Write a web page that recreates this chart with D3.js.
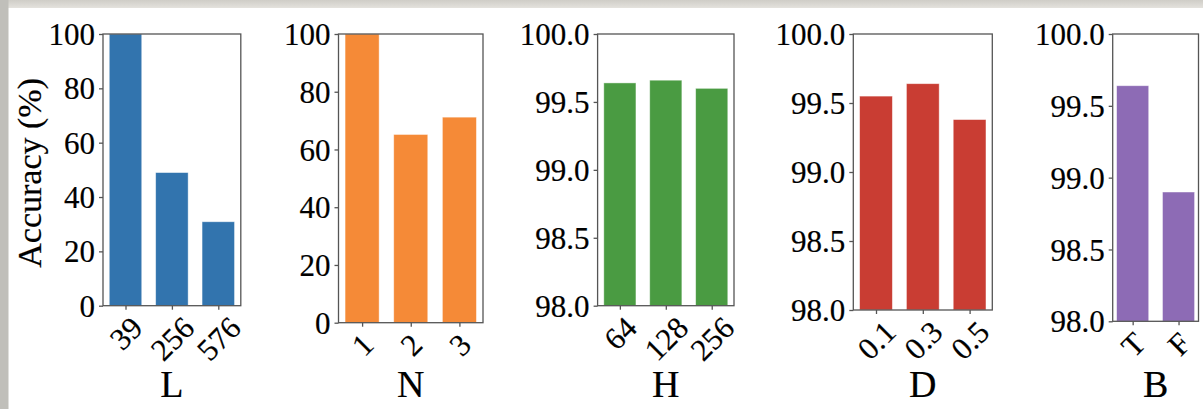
<!DOCTYPE html>
<html>
<head>
<meta charset="utf-8">
<script src="https://cdn.jsdelivr.net/npm/d3@7"></script>
<style>
  html, body { margin: 0; padding: 0; background: #fff; }
  svg { display: block; }
  svg text { stroke: #000; stroke-width: 0.2px; }
</style>
</head>
<body>
<svg id="chart" width="1203" height="409"></svg>
<script>
// Ablation results: accuracy (%) for each hyper-parameter setting
const catsL = ["39", "256", "576"];
const accL  = [100, 49.0, 30.9];

const catsN = ["1", "2", "3"];
const accN  = [100, 65.2, 71.2];

const catsH = ["64", "128", "256"];
const accH  = [99.64, 99.66, 99.60];

const catsD = ["0.1", "0.3", "0.5"];
const accD  = [99.55, 99.64, 99.38];

const catsB = ["T", "F"];
const accB  = [99.64, 98.90];

const paramNames   = ["L", "N", "H", "D", "B"];
const ticksPercent = [0, 20, 40, 60, 80, 100];
const ticksFine    = [98.0, 98.5, 99.0, 99.5, 100.0];
const yLabelText   = "Accuracy (%)";

const FONT = '"Liberation Serif", "Times New Roman", serif';
const TICK_SIZE = 31, XLABEL_SIZE = 38, YLABEL_SIZE = 34;
const SPINE = "#555";

const panels = [
  { cats: catsL, vals: accL, name: paramNames[0], domain: [0, 100],  ticks: ticksPercent, fmt: d3.format("d"),
    color: "#3274ae", box: { left: 103,   right: 240.8,  top: 34, bottom: 305.7 } },
  { cats: catsN, vals: accN, name: paramNames[1], domain: [0, 100],  ticks: ticksPercent, fmt: d3.format("d"),
    color: "#f58a37", box: { left: 338.5, right: 483,    top: 34, bottom: 322.7 } },
  { cats: catsH, vals: accH, name: paramNames[2], domain: [98, 100], ticks: ticksFine,    fmt: d3.format(".1f"),
    color: "#4a9b42", box: { left: 597.6, right: 734,    top: 34, bottom: 305.7 } },
  { cats: catsD, vals: accD, name: paramNames[3], domain: [98, 100], ticks: ticksFine,    fmt: d3.format(".1f"),
    color: "#c93d33", box: { left: 853.3, right: 992.3,  top: 34, bottom: 310 } },
  { cats: catsB, vals: accB, name: paramNames[4], domain: [98, 100], ticks: ticksFine,    fmt: d3.format(".1f"),
    color: "#8d6bb5", box: { left: 1112.7, right: 1198.5, top: 34, bottom: 321.3 } }
];

const svg = d3.select("#chart");

// window frame strips along the top and left edges
const defs = svg.append("defs");
const gTop = defs.append("linearGradient").attr("id", "frameTop").attr("x1", 0).attr("y1", 0).attr("x2", 0).attr("y2", 1);
gTop.append("stop").attr("offset", "0%").attr("stop-color", "#cfcdc7");
gTop.append("stop").attr("offset", "100%").attr("stop-color", "#e4e2dd");
svg.append("rect").attr("x", 0).attr("y", 0).attr("width", 1203).attr("height", 8).attr("fill", "url(#frameTop)");
svg.append("rect").attr("x", 0).attr("y", 0).attr("width", 8.5).attr("height", 409).attr("fill", "#c0bfba");

const XLABEL_BASELINE = 396.5;
const BAR_WIDTH = 0.7;

panels.forEach((p, pi) => {
  const b = p.box;
  const n = p.cats.length;
  // index-based x positions, bar width 0.7 with 5% margins on either side
  const span = (n - 1) + BAR_WIDTH;
  const x = d3.scaleLinear()
    .domain([-BAR_WIDTH / 2 - 0.05 * span, (n - 1) + BAR_WIDTH / 2 + 0.05 * span])
    .range([b.left, b.right]);
  const y = d3.scaleLinear().domain(p.domain).range([b.bottom, b.top]);

  const g = svg.append("g");

  // bars
  g.selectAll("rect.bar")
    .data(p.vals)
    .join("rect")
    .attr("class", "bar")
    .attr("x", (d, i) => x(i - BAR_WIDTH / 2))
    .attr("width", (d, i) => x(i + BAR_WIDTH / 2) - x(i - BAR_WIDTH / 2))
    .attr("y", d => y(d))
    .attr("height", d => y(p.domain[0]) - y(d))
    .attr("fill", p.color)
    .attr("stroke", "#ffffff")
    .attr("stroke-opacity", 0.55)
    .attr("stroke-width", 0.8);

  // y axis
  const yAxis = d3.axisLeft(y).tickValues(p.ticks).tickFormat(p.fmt).tickSize(4).tickPadding(4);
  const ya = g.append("g").attr("transform", `translate(${b.left},0)`).call(yAxis)
    .attr("font-family", FONT).attr("font-size", TICK_SIZE);
  ya.select(".domain").remove();
  ya.selectAll(".tick line").attr("stroke", SPINE).attr("stroke-width", 1.3);
  ya.selectAll(".tick text")
    .attr("font-family", FONT).attr("font-size", TICK_SIZE).attr("fill", "#000")
    .attr("dy", "0.34em");

  // x axis ticks
  const xAxis = d3.axisBottom(x).tickValues(d3.range(n)).tickFormat(i => p.cats[i]).tickSize(4).tickPadding(0);
  const xa = g.append("g").attr("transform", `translate(0,${b.bottom})`).call(xAxis)
    .attr("font-family", FONT).attr("font-size", TICK_SIZE);
  xa.select(".domain").remove();
  xa.selectAll(".tick line").attr("stroke", SPINE).attr("stroke-width", 1.3);
  xa.selectAll(".tick text")
    .attr("font-family", FONT).attr("font-size", TICK_SIZE).attr("fill", "#000")
    .attr("text-anchor", "middle")
    .attr("dy", "0.34em")
    .attr("y", 0)
    .each(function () {
      // rotate each label 45 degrees and hang its bounding box under the tick
      const w = this.getComputedTextLength();
      const h = TICK_SIZE * 1.1;
      const half = (w + h) * Math.SQRT1_2 / 2;
      d3.select(this).attr("transform", `translate(0,${4.5 + half}) rotate(-45)`);
    });

  // frame (all four spines)
  g.append("rect")
    .attr("x", b.left).attr("y", b.top)
    .attr("width", b.right - b.left).attr("height", b.bottom - b.top)
    .attr("fill", "none").attr("stroke", SPINE).attr("stroke-width", 1.3);

  // parameter name under each panel
  g.append("text")
    .attr("x", (b.left + b.right) / 2)
    .attr("y", XLABEL_BASELINE)
    .attr("text-anchor", "middle")
    .attr("font-family", FONT).attr("font-size", XLABEL_SIZE).attr("fill", "#000")
    .text(p.name);

  if (pi === 0) {
    g.append("text")
      .attr("transform", `translate(41,${(b.top + b.bottom) / 2 + 3}) rotate(-90)`)
      .attr("text-anchor", "middle")
      .attr("font-family", FONT).attr("font-size", YLABEL_SIZE).attr("fill", "#000")
      .text(yLabelText);
  }
});
</script>
</body>
</html>
